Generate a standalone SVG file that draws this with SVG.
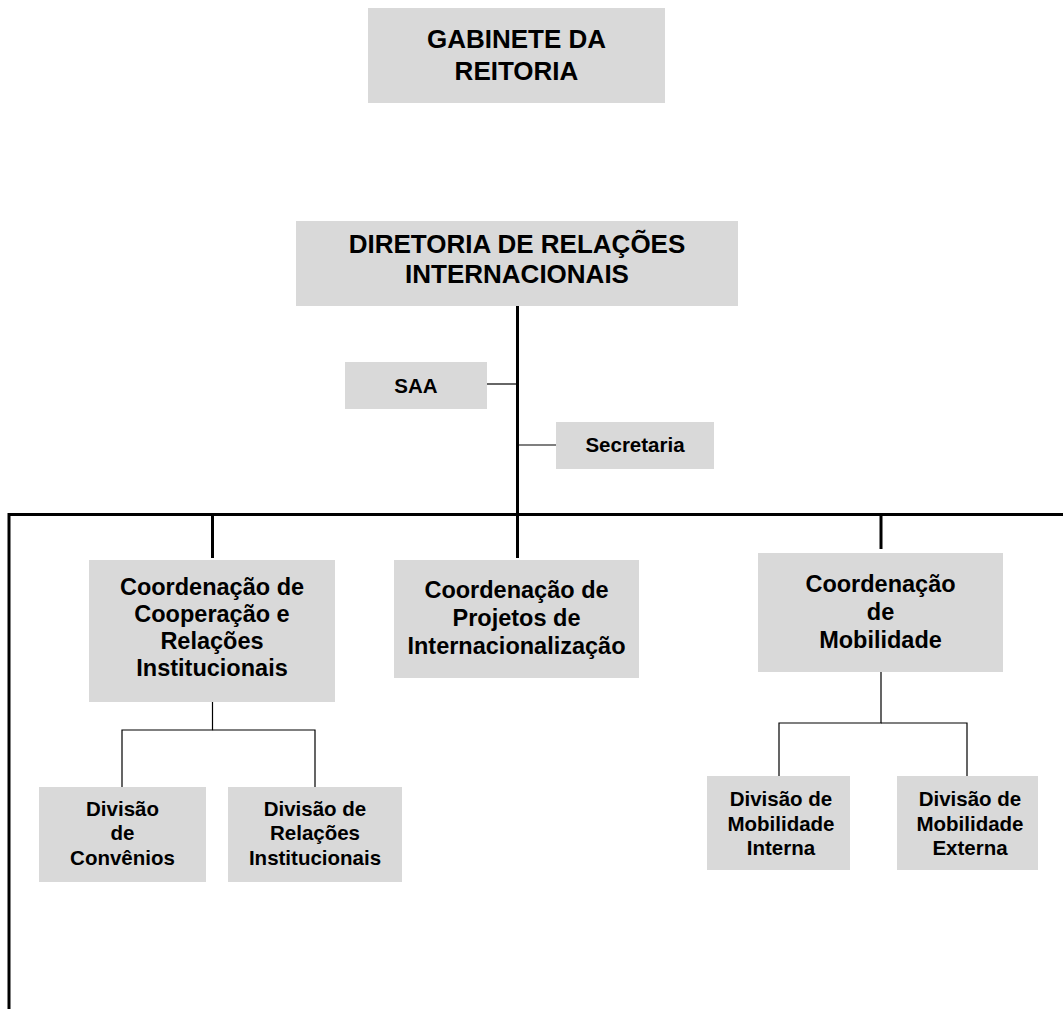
<svg xmlns="http://www.w3.org/2000/svg" width="1063" height="1009" viewBox="0 0 1063 1009">
<style>
  .box { fill: #d9d9d9; }
  text { font-family: "Liberation Sans", Arial, sans-serif; font-weight: bold; fill: #000; text-anchor: middle; }
  .t26 { font-size: 26px; }
  .t23 { font-size: 23.5px; }
  .t21 { font-size: 20.5px; }
  .thick { stroke: #000; stroke-width: 3; fill: none; }
  .thin { stroke: #000; stroke-width: 1.2; fill: none; }
</style>
<rect width="1063" height="1009" fill="#fff"/>
<g id="connectors">
  <line class="thick" x1="517.5" y1="306" x2="517.5" y2="558"/>
  <line class="thin" x1="487" y1="384" x2="517.5" y2="384"/>
  <line class="thin" x1="517.5" y1="445" x2="556" y2="445"/>
  <polyline class="thick" points="1063,514.5 9,514.5 9,1009"/>
  <line class="thick" x1="212.5" y1="514.5" x2="212.5" y2="558"/>
  <line class="thick" x1="881" y1="514.5" x2="881" y2="549"/>
  <polyline class="thin" points="212.5,702 212.5,730 122,730 122,787"/>
  <polyline class="thin" points="212.5,730 315,730 315,787"/>
  <polyline class="thin" points="881,672 881,723 779,723 779,787"/>
  <polyline class="thin" points="881,723 967,723 967,780"/>
</g>
<g id="gabinete">
  <rect class="box" x="368" y="8" width="297" height="95"/>
  <text class="t26" x="516.5" y="48">GABINETE DA</text>
  <text class="t26" x="516.5" y="80">REITORIA</text>
</g>
<g id="diretoria">
  <rect class="box" x="296" y="221" width="442" height="85"/>
  <text class="t26" x="517" y="253">DIRETORIA DE RELAÇÕES</text>
  <text class="t26" x="517" y="283">INTERNACIONAIS</text>
</g>
<g id="saa">
  <rect class="box" x="345" y="362" width="142" height="47"/>
  <text class="t21" x="416" y="393">SAA</text>
</g>
<g id="secretaria">
  <rect class="box" x="556" y="422" width="158" height="47"/>
  <text class="t21" x="635" y="452">Secretaria</text>
</g>
<g id="coord-cooperacao">
  <rect class="box" x="89" y="560" width="246" height="142"/>
  <text class="t23" x="212" y="595">Coordenação de</text>
  <text class="t23" x="212" y="622">Cooperação e</text>
  <text class="t23" x="212" y="649">Relações</text>
  <text class="t23" x="212" y="676">Institucionais</text>
</g>
<g id="coord-projetos">
  <rect class="box" x="394" y="560" width="245" height="118"/>
  <text class="t23" x="516.5" y="598">Coordenação de</text>
  <text class="t23" x="516.5" y="626">Projetos de</text>
  <text class="t23" x="516.5" y="654">Internacionalização</text>
</g>
<g id="coord-mobilidade">
  <rect class="box" x="758" y="553" width="245" height="119"/>
  <text class="t23" x="880.5" y="592">Coordenação</text>
  <text class="t23" x="880.5" y="620">de</text>
  <text class="t23" x="880.5" y="648">Mobilidade</text>
</g>
<g id="div-convenios">
  <rect class="box" x="39" y="787" width="167" height="95"/>
  <text class="t21" x="122.5" y="816">Divisão</text>
  <text class="t21" x="122.5" y="840">de</text>
  <text class="t21" x="122.5" y="865">Convênios</text>
</g>
<g id="div-relacoes">
  <rect class="box" x="228" y="787" width="174" height="95"/>
  <text class="t21" x="315" y="816">Divisão de</text>
  <text class="t21" x="315" y="840">Relações</text>
  <text class="t21" x="315" y="865">Institucionais</text>
</g>
<g id="div-mob-interna">
  <rect class="box" x="707" y="776" width="143" height="94"/>
  <text class="t21" x="781" y="806">Divisão de</text>
  <text class="t21" x="781" y="831">Mobilidade</text>
  <text class="t21" x="781" y="855">Interna</text>
</g>
<g id="div-mob-externa">
  <rect class="box" x="897" y="776" width="141" height="94"/>
  <text class="t21" x="970" y="806">Divisão de</text>
  <text class="t21" x="970" y="831">Mobilidade</text>
  <text class="t21" x="970" y="855">Externa</text>
</g>
</svg>
